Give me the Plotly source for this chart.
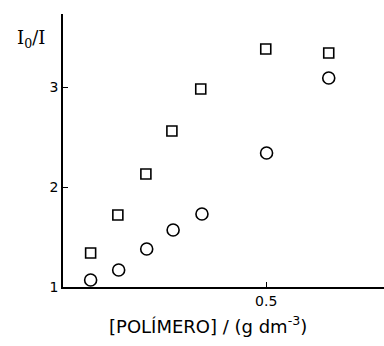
import plotly.graph_objects as go

conc = [0.068, 0.135, 0.204, 0.268, 0.339, 0.499, 0.654]
sq_vals = [1.34, 1.72, 2.13, 2.56, 2.98, 3.38, 3.34]
circ_x = [0.068, 0.137, 0.206, 0.271, 0.342, 0.501, 0.654]
circ_vals = [1.07, 1.17, 1.38, 1.57, 1.73, 2.34, 3.09]

x_ticks = [0.5]
x_ticklabels = ["0.5"]
y_ticks = [1, 2, 3]
y_ticklabels = ["1", "2", "3"]

fig = go.Figure()
fig.add_trace(go.Scatter(x=conc, y=sq_vals, mode="markers",
                         marker=dict(symbol="square-open", size=10, color="black",
                                     line=dict(width=1.6, color="black")),
                         showlegend=False))
fig.add_trace(go.Scatter(x=circ_x, y=circ_vals, mode="markers",
                         marker=dict(symbol="circle-open", size=12, color="black",
                                     line=dict(width=1.6, color="black")),
                         showlegend=False))

W, H = 384, 346
L, R, T, B = 63, 0, 14, 59
PW, PH = W - L - R, H - T - B


def px(x):
    return (x - L) / PW


def py(y):
    return (H - B - y) / PH


fig.update_layout(
    width=W, height=H,
    margin=dict(l=L, r=R, t=T, b=B),
    paper_bgcolor="white", plot_bgcolor="white",
    font=dict(family="DejaVu Sans", color="black", size=13),
    xaxis=dict(range=[0, 0.79], showgrid=False, zeroline=False,
               showline=True, linecolor="black", linewidth=1.5,
               ticks="inside", ticklen=5, tickwidth=1.2, tickcolor="black",
               tickvals=x_ticks, ticktext=x_ticklabels,
               tickfont=dict(size=14, family="DejaVu Sans", color="black")),
    yaxis=dict(range=[1, 3.73], showgrid=False, zeroline=False,
               showline=True, linecolor="black", linewidth=1.5,
               ticks="inside", ticklen=5, tickwidth=1.2, tickcolor="black",
               tickvals=y_ticks, ticktext=y_ticklabels,
               tickfont=dict(size=14, family="DejaVu Sans", color="black")),
    annotations=[
        dict(text="I<sub>0</sub>/I", x=px(31), y=py(39), xref="paper", yref="paper",
             showarrow=False, xanchor="center", yanchor="middle",
             font=dict(size=18, family="DejaVu Serif", color="black")),
        dict(text="[POLÍMERO] / (g dm<sup>-3</sup>)", x=px(208), y=py(325),
             xref="paper", yref="paper", showarrow=False,
             xanchor="center", yanchor="middle",
             font=dict(size=18, family="DejaVu Sans", color="black")),
    ],
)

fig.write_html("out.html")
